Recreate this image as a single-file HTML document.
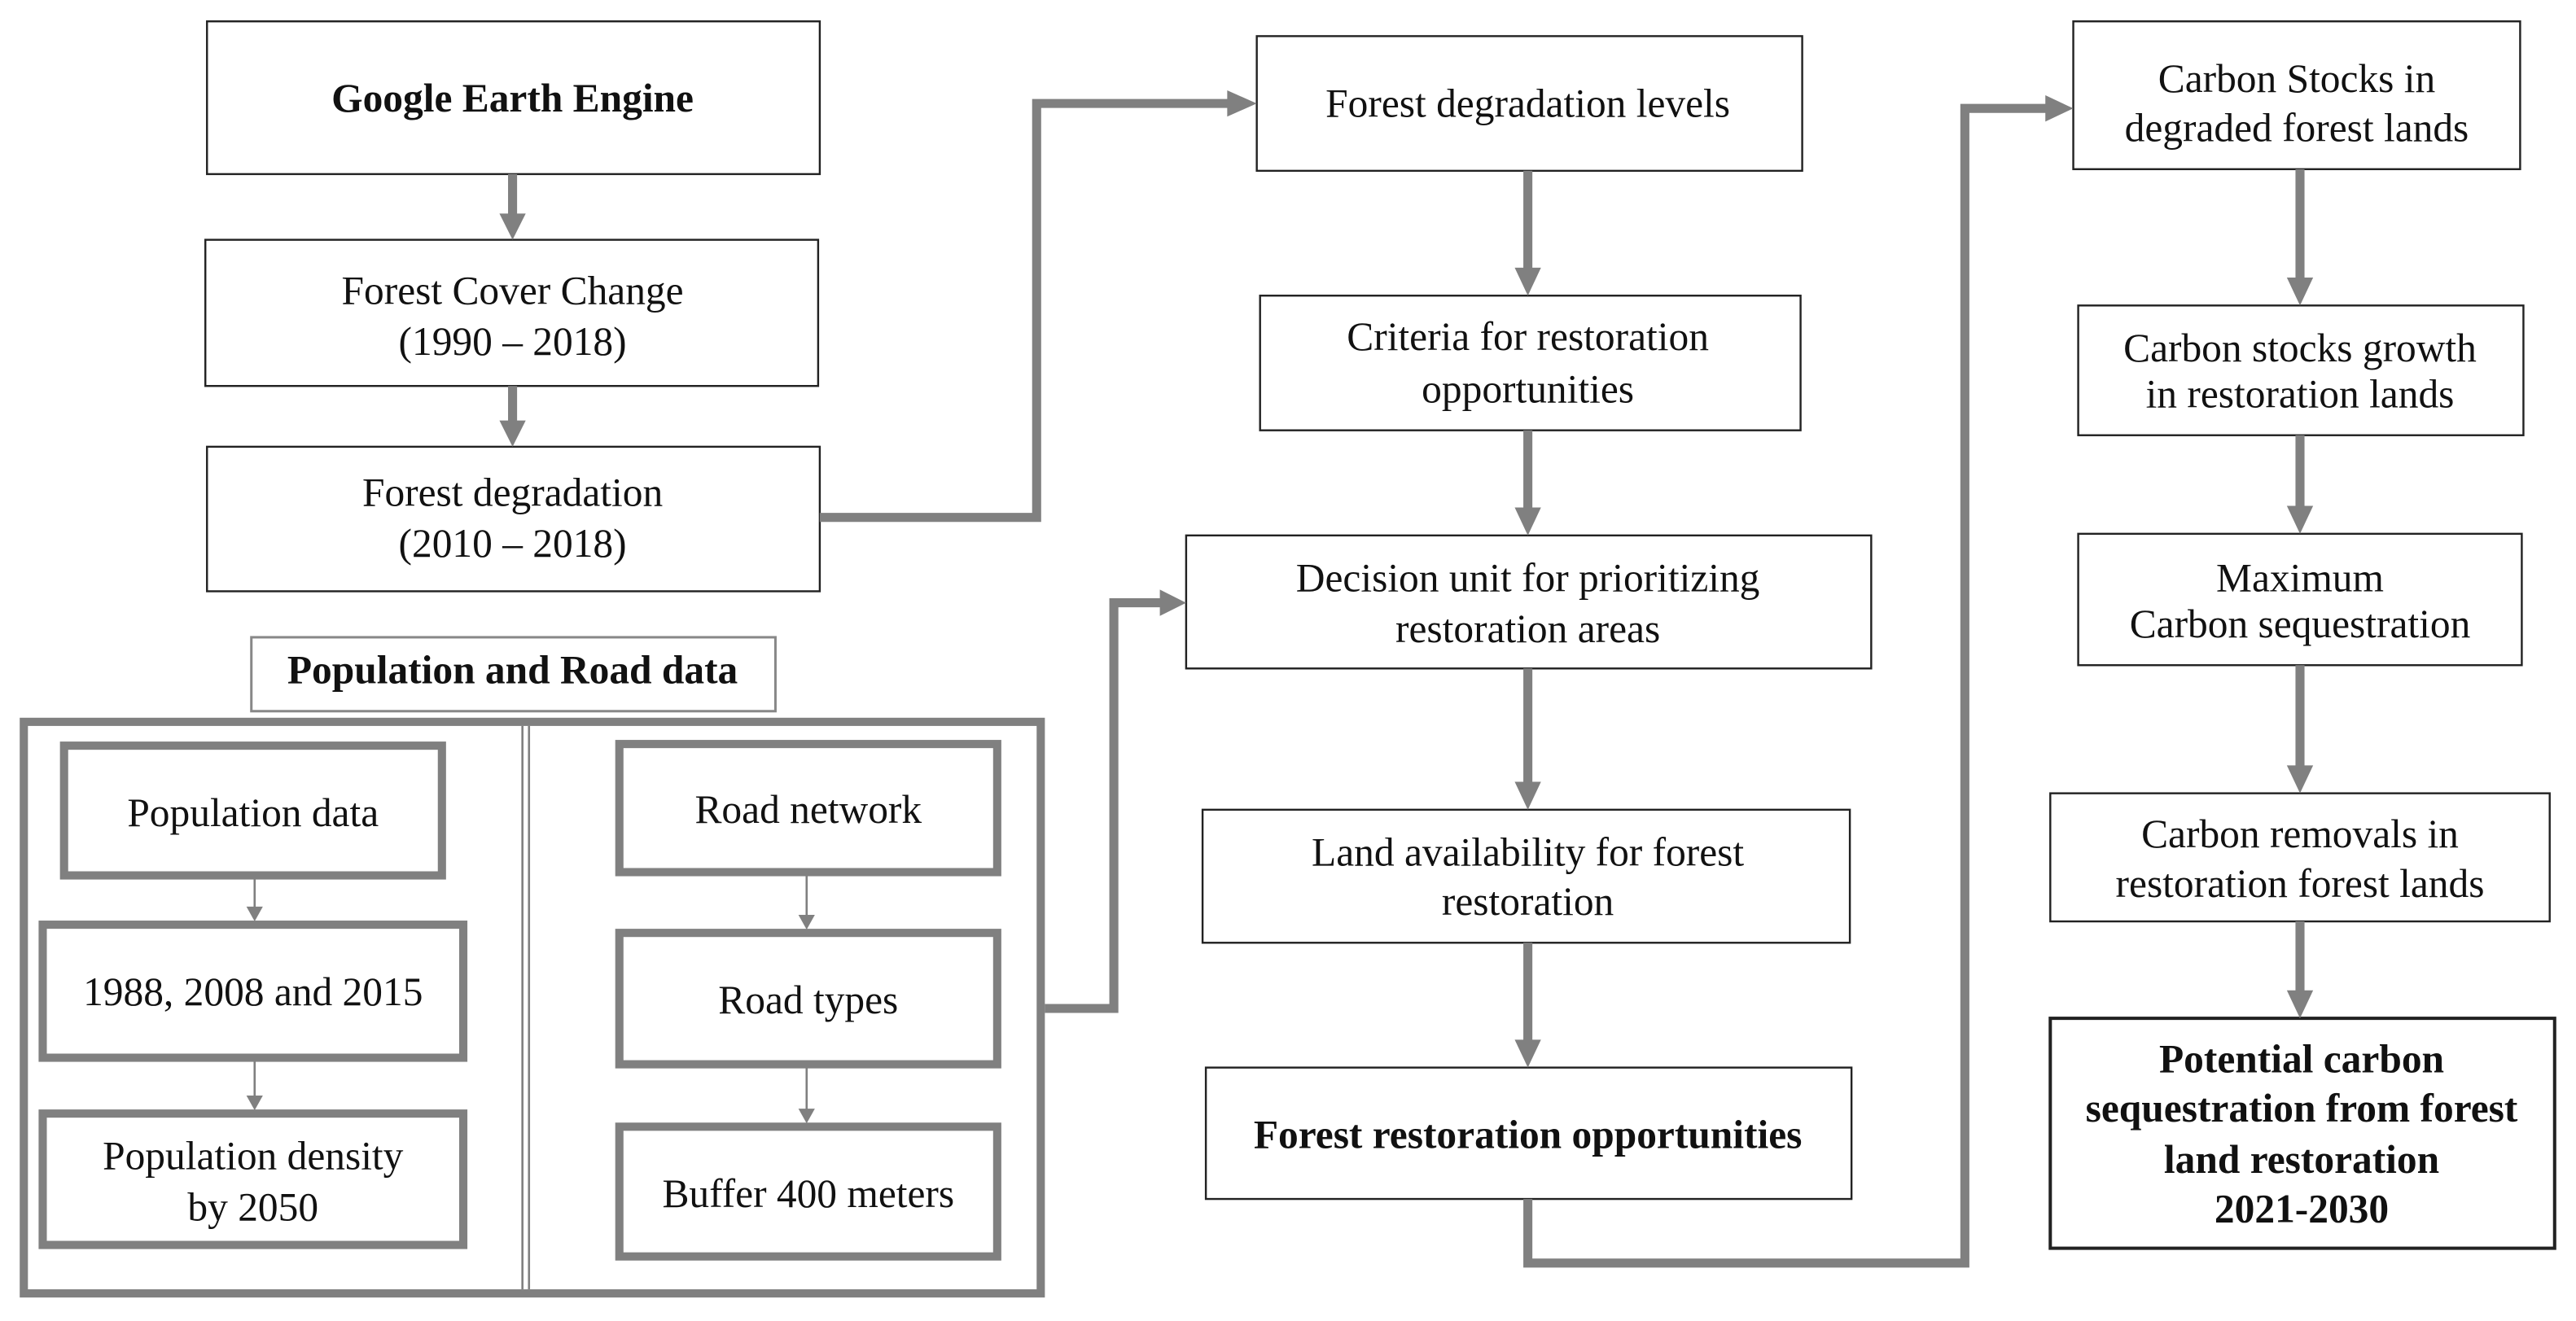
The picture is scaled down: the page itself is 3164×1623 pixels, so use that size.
<!DOCTYPE html>
<html><head><meta charset="utf-8"><style>
html,body{margin:0;padding:0;background:#fff;}
svg{display:block;}
text{font-family:"Liberation Serif",serif;font-size:24.5px;fill:#111;text-anchor:middle;}
.b{font-weight:bold;}
</style></head><body>
<svg width="3164" height="1623" viewBox="0 0 1568 804.3" preserveAspectRatio="none" xmlns="http://www.w3.org/2000/svg">
<rect width="1568" height="804.3" fill="#fff"/>
<g fill="#fff" stroke="#222" stroke-width="1.2">
<rect x="126" y="13" width="373" height="93"/>
<rect x="125" y="146" width="373" height="89"/>
<rect x="126" y="272" width="373" height="88"/>
<rect x="765" y="22" width="332" height="82"/>
<rect x="767" y="180" width="329" height="82"/>
<rect x="722" y="326" width="417" height="81"/>
<rect x="732" y="493" width="394" height="81"/>
<rect x="734" y="650" width="393" height="80"/>
<rect x="1262" y="13" width="272" height="90"/>
<rect x="1265" y="186" width="271" height="79"/>
<rect x="1265" y="325" width="270" height="80"/>
<rect x="1248" y="483" width="304" height="78"/>
<rect x="1248" y="620" width="307" height="140" stroke-width="2"/>
</g>
<rect x="153" y="388" width="319" height="45" fill="#fff" stroke="#888" stroke-width="1.5"/>
<g fill="none" stroke="#808080" stroke-width="5">
<rect x="14.5" y="439.5" width="619" height="348"/>
<rect x="39" y="454" width="230" height="79"/>
<rect x="26" y="563" width="256" height="81"/>
<rect x="26" y="678" width="256" height="80"/>
<rect x="377" y="453" width="230" height="78"/>
<rect x="377" y="568" width="230" height="80"/>
<rect x="377" y="686" width="230" height="79"/>
</g>
<g stroke="#808080" stroke-width="1.3">
<line x1="318" y1="442" x2="318" y2="785"/><line x1="322" y1="442" x2="322" y2="785"/>
<line x1="155" y1="535" x2="155" y2="553"/><line x1="155" y1="646" x2="155" y2="668"/>
<line x1="491" y1="533" x2="491" y2="558"/><line x1="491" y1="650" x2="491" y2="676"/>
</g>
<g fill="#808080">
<polygon points="150,552 160,552 155,561"/><polygon points="150,667 160,667 155,676"/>
<polygon points="486,557 496,557 491,566"/><polygon points="486,675 496,675 491,684"/>
</g>
<g fill="none" stroke="#808080" stroke-width="5.5">
<line x1="312" y1="106" x2="312" y2="132"/>
<line x1="312" y1="235" x2="312" y2="258"/>
<polyline points="499,315 631,315 631,63 750,63"/>
<polyline points="636,614 678,614 678,367 708,367"/>
<line x1="930" y1="104" x2="930" y2="165"/>
<line x1="930" y1="262" x2="930" y2="311"/>
<line x1="930" y1="407" x2="930" y2="478"/>
<line x1="930" y1="574" x2="930" y2="635"/>
<polyline points="930,730 930,769 1196,769 1196,66 1247,66"/>
<line x1="1400" y1="103" x2="1400" y2="171"/>
<line x1="1400" y1="265" x2="1400" y2="310"/>
<line x1="1400" y1="405" x2="1400" y2="468"/>
<line x1="1400" y1="561" x2="1400" y2="605"/>
</g>
<g fill="#808080">
<polygon points="304,130 320,130 312,146"/>
<polygon points="304,256 320,256 312,272"/>
<polygon points="747,55 747,71 765,63"/>
<polygon points="706,359 706,375 722,367"/>
<polygon points="922,163 938,163 930,180"/>
<polygon points="922,309 938,309 930,326"/>
<polygon points="922,476 938,476 930,493"/>
<polygon points="922,633 938,633 930,650"/>
<polygon points="1245,58 1245,74 1262,66"/>
<polygon points="1392,169 1408,169 1400,186"/>
<polygon points="1392,308 1408,308 1400,325"/>
<polygon points="1392,466 1408,466 1400,483"/>
<polygon points="1392,603 1408,603 1400,620"/>
</g>
<text class="b" x="312" y="68">Google Earth Engine</text>
<text x="312" y="185">Forest Cover Change</text>
<text x="312" y="216">(1990 – 2018)</text>
<text x="312" y="308">Forest degradation</text>
<text x="312" y="339">(2010 – 2018)</text>
<text class="b" x="312" y="416">Population and Road data</text>
<text x="154" y="503">Population data</text>
<text x="154" y="612">1988, 2008 and 2015</text>
<text x="154" y="712">Population density</text>
<text x="154" y="743">by 2050</text>
<text x="492" y="501">Road network</text>
<text x="492" y="617">Road types</text>
<text x="492" y="735">Buffer 400 meters</text>
<text x="930" y="71">Forest degradation levels</text>
<text x="930" y="213">Criteria  for restoration</text>
<text x="930" y="245">opportunities</text>
<text x="930" y="360">Decision unit for prioritizing</text>
<text x="930" y="391">restoration areas</text>
<text x="930" y="527">Land availability  for forest</text>
<text x="930" y="557">restoration</text>
<text class="b" x="930" y="699">Forest restoration opportunities</text>
<text x="1398" y="56">Carbon Stocks in</text>
<text x="1398" y="86">degraded forest lands</text>
<text x="1400" y="220">Carbon stocks growth</text>
<text x="1400" y="248">in restoration lands</text>
<text x="1400" y="360">Maximum</text>
<text x="1400" y="388">Carbon sequestration</text>
<text x="1400" y="516">Carbon removals in</text>
<text x="1400" y="546">restoration forest lands</text>
<text class="b" x="1401" y="653">Potential carbon</text>
<text class="b" x="1401" y="683">sequestration from forest</text>
<text class="b" x="1401" y="714">land restoration</text>
<text class="b" x="1401" y="744">2021-2030</text>
</svg>
</body></html>
